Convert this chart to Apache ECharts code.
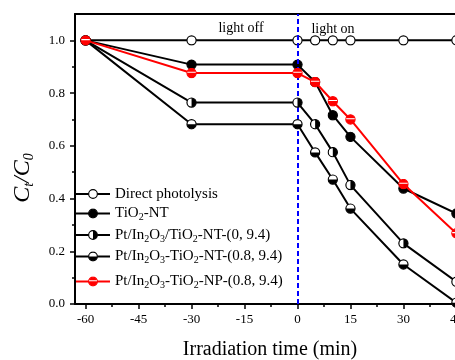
<!DOCTYPE html>
<html lang="en">
<head>
    <meta charset="UTF-8">
    <title>Photodegradation C/C0</title>
    <script src="https://cdn.jsdelivr.net/npm/echarts@6/dist/echarts.min.js"></script>
    <style>
        html, body { margin: 0; padding: 0; background: #fff; }
        #chart { width: 455px; height: 360px; }
    </style>
</head>
<body>
    <div id="chart"></div>
    <script>
        // data
        const times = [-60, -30, 0, 5, 10, 15, 30, 45]
        const photolysis = [1.0, 1.0, 1.0, 1.0, 1.0, 1.0, 1.0, 1.0]
        const tio2NT = [1.0, 0.908, 0.908, 0.842, 0.716, 0.634, 0.438, 0.343]
        const ptNT0 = [1.0, 0.764, 0.764, 0.682, 0.576, 0.451, 0.230, 0.084]
        const ptNT08 = [1.0, 0.682, 0.682, 0.575, 0.472, 0.362, 0.150, 0.005]
        const ptNP = [1.0, 0.876, 0.876, 0.842, 0.769, 0.700, 0.455, 0.268]

        const seriesNames = [
            "Direct photolysis",
            "TiO2-NT",
            "Pt/In2O3/TiO2-NT-(0, 9.4)",
            "Pt/In2O3-TiO2-NT-(0.8, 9.4)",
            "Pt/In2O3-TiO2-NP-(0.8, 9.4)"
        ]
        const xTicks = [-60, -45, -30, -15, 0, 15, 30, 45]
        const xMinor = [-52.5, -37.5, -22.5, -7.5, 7.5, 22.5, 37.5]
        const yTicks = [0, 0.2, 0.4, 0.6, 0.8, 1.0]
        const yMinor = [0.1, 0.3, 0.5, 0.7, 0.9]

        const FONT = "Liberation Serif"

        function svgSymbol(body) {
            const svg = '<svg xmlns="http://www.w3.org/2000/svg" width="24" height="24" viewBox="0 0 12 12">' + body + '</svg>'
            return "image://data:image/svg+xml;charset=utf-8," + encodeURIComponent(svg)
        }
        const symbols = [
            svgSymbol('<circle cx="6" cy="6" r="5" fill="#fff" stroke="#000" stroke-width="1.3"/>'),
            svgSymbol('<circle cx="6" cy="6" r="5" fill="#000" stroke="#000" stroke-width="1.3"/>'),
            svgSymbol('<circle cx="6" cy="6" r="5" fill="#fff"/><path d="M6,1 A5,5 0 0 1 6,11 Z" fill="#000"/><circle cx="6" cy="6" r="5" fill="none" stroke="#000" stroke-width="1.3"/>'),
            svgSymbol('<circle cx="6" cy="6" r="5" fill="#fff"/><path d="M1,6 A5,5 0 0 0 11,6 Z" fill="#000"/><circle cx="6" cy="6" r="5" fill="none" stroke="#000" stroke-width="1.3"/>'),
            svgSymbol('<circle cx="6" cy="6" r="5" fill="#ff0000" stroke="#ff0000" stroke-width="1.3"/><line x1="1.4" y1="5.2" x2="10.6" y2="5.2" stroke="#fff" stroke-width="1.2"/>')
        ]
        const colors = ["#000", "#000", "#000", "#000", "#ff0000"]
        const values = [photolysis, tio2NT, ptNT0, ptNT08, ptNP]

        const richSub = {
            s: { fontSize: 10, fontFamily: FONT, lineHeight: 10, padding: [8, 0, 0, 0] }
        }
        const subscript = name => name.replace(/([A-Za-z])(\d)/g, "$1{s|$2}")

        const legendY = [192.5, 211, 232.5, 254, 279]
        const legends = seriesNames.map((name, i) => ({
            data: [name],
            orient: "vertical",
            left: 75,
            top: legendY[i] - 6.5,
            padding: 0,
            itemWidth: 34,
            itemHeight: 13,
            selectedMode: false,
            formatter: subscript,
            textStyle: { fontFamily: FONT, fontSize: 15, color: "#000", lineHeight: 16, rich: richSub }
        }))

        const series = seriesNames.map((name, i) => ({
            name: name,
            type: "line",
            data: times.map((t, k) => [t, values[i][k]]),
            symbol: symbols[i],
            symbolSize: 11,
            lineStyle: { color: colors[i], width: 2 },
            itemStyle: { color: colors[i] },
            z: 3 + i,
            animation: false
        }))
        series[0].markLine = {
            silent: true,
            symbol: "none",
            label: { show: false },
            lineStyle: { color: "#0000ff", width: 2, type: [5, 3] },
            data: [{ xAxis: 0 }],
            animation: false
        }

        const axisLine = { show: true, onZero: false, lineStyle: { color: "#000", width: 2 } }
        const noLine = { show: false, onZero: false }
        const chart = echarts.init(document.getElementById("chart"))
        chart.setOption({
            animation: false,
            backgroundColor: "#fff",
            grid: { left: 75, top: 14, width: 392, height: 290, outerBoundsMode: "none", containLabel: false },
            legend: legends,
            xAxis: [
                {
                    type: "value", position: "bottom", min: -63, max: 48,
                    axisLine: axisLine,
                    splitLine: { show: false },
                    axisTick: { show: true, inside: false, length: 5, customValues: xTicks, lineStyle: { color: "#000", width: 1.5 } },
                    axisLabel: { customValues: xTicks, margin: 9, fontFamily: FONT, fontSize: 13, color: "#000" }
                },
                {
                    type: "value", position: "bottom", min: -63, max: 48,
                    axisLine: noLine,
                    splitLine: { show: false },
                    axisTick: { show: true, inside: false, length: 3, customValues: xMinor, lineStyle: { color: "#000", width: 1.5 } },
                    axisLabel: { show: false }
                },
                {
                    type: "value", position: "top", min: -63, max: 48,
                    axisLine: axisLine,
                    splitLine: { show: false },
                    axisTick: { show: false },
                    axisLabel: { show: false }
                }
            ],
            yAxis: [
                {
                    type: "value", position: "left", min: 0, max: 1.1,
                    axisLine: axisLine,
                    splitLine: { show: false },
                    axisTick: { show: true, inside: false, length: 5, customValues: yTicks, lineStyle: { color: "#000", width: 1.5 } },
                    axisLabel: { customValues: yTicks, margin: 10, fontFamily: FONT, fontSize: 13, color: "#000", formatter: v => v.toFixed(1) }
                },
                {
                    type: "value", position: "left", min: 0, max: 1.1,
                    axisLine: noLine,
                    splitLine: { show: false },
                    axisTick: { show: true, inside: false, length: 3, customValues: yMinor, lineStyle: { color: "#000", width: 1.5 } },
                    axisLabel: { show: false }
                }
            ],
            graphic: [
                {
                    type: "text", x: 241, y: 28,
                    style: { text: "light off", fontFamily: FONT, fontSize: 14, fill: "#000", align: "center", verticalAlign: "middle" }
                },
                {
                    type: "text", x: 333, y: 29,
                    style: { text: "light on", fontFamily: FONT, fontSize: 14, fill: "#000", align: "center", verticalAlign: "middle" }
                },
                {
                    type: "text", x: 270, y: 350,
                    style: { text: "Irradiation time (min)", fontFamily: FONT, fontSize: 20, fill: "#000", align: "center", verticalAlign: "middle" }
                },
                {
                    type: "text", x: 23, y: 178, rotation: Math.PI / 2,
                    style: {
                        text: "C{s|t}/C{s|0}",
                        fontFamily: FONT, fontSize: 24, fontStyle: "italic", fill: "#000",
                        align: "center", verticalAlign: "middle",
                        rich: { s: { fontFamily: FONT, fontSize: 14, fontStyle: "italic", fill: "#000", lineHeight: 14, padding: [12, 0, 0, 0] } }
                    }
                }
            ],
            series: series
        })
    </script>
</body>
</html>
